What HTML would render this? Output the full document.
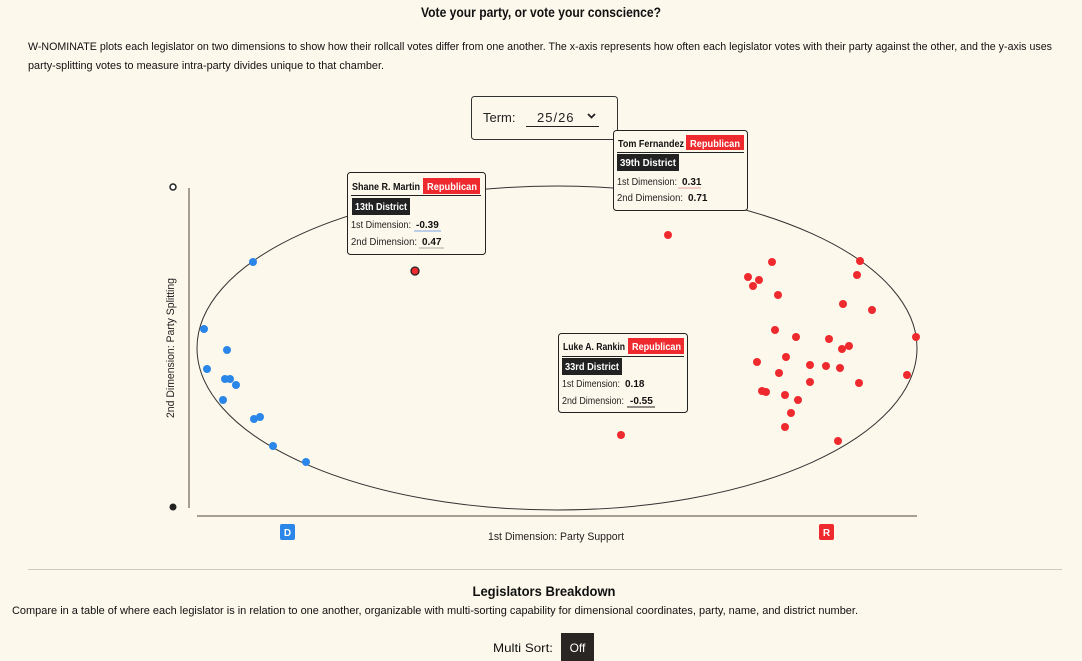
<!DOCTYPE html>
<html><head><meta charset="utf-8"><style>
html,body{margin:0;padding:0;background:#fdf8ec;}
svg{display:block;font-family:"Liberation Sans",sans-serif;}
</style></head><body>
<svg width="1082" height="661" viewBox="0 0 1082 661" xmlns="http://www.w3.org/2000/svg">
<rect width="1082" height="661" fill="#fdf8ec"/>
<text x="541" y="17" text-anchor="middle" font-size="14" font-weight="bold" fill="#111" textLength="240" lengthAdjust="spacingAndGlyphs">Vote your party, or vote your conscience?</text>
<text x="28" y="50" font-size="11" fill="#111" textLength="1024" lengthAdjust="spacingAndGlyphs">W-NOMINATE plots each legislator on two dimensions to show how their rollcall votes differ from one another. The x-axis represents how often each legislator votes with their party against the other, and the y-axis uses</text>
<text x="28" y="69" font-size="11" fill="#111" textLength="356" lengthAdjust="spacingAndGlyphs">party-splitting votes to measure intra-party divides unique to that chamber.</text>

<!-- axes -->
<line x1="189" y1="188" x2="189" y2="508" stroke="#a59e93" stroke-width="2"/>
<line x1="197" y1="516" x2="917" y2="516" stroke="#a59e93" stroke-width="2"/>
<circle cx="173" cy="187" r="3" fill="#fff" stroke="#222" stroke-width="1.5"/>
<circle cx="173" cy="507" r="3.5" fill="#222"/>
<text x="174" y="348" font-size="11" fill="#222" text-anchor="middle" transform="rotate(-90 174 348)" textLength="140" lengthAdjust="spacingAndGlyphs">2nd Dimension: Party Splitting</text>
<text x="556" y="540" font-size="11" fill="#222" text-anchor="middle" textLength="136" lengthAdjust="spacingAndGlyphs">1st Dimension: Party Support</text>
<rect x="280" y="524" width="15" height="16" rx="2" fill="#2a86e8"/>
<text x="287.5" y="536" font-size="10" font-weight="bold" fill="#fff" text-anchor="middle">D</text>
<rect x="819" y="524" width="15" height="16" rx="2" fill="#ee2a2e"/>
<text x="826.5" y="536" font-size="10" font-weight="bold" fill="#fff" text-anchor="middle">R</text>

<ellipse cx="557" cy="348" rx="360" ry="162" fill="none" stroke="#333" stroke-width="1"/>

<g fill="#2a86e8">
<circle cx="253" cy="262" r="4"/><circle cx="204" cy="329" r="4"/><circle cx="227" cy="350" r="4"/><circle cx="207" cy="369" r="4"/><circle cx="225" cy="379" r="4"/><circle cx="230" cy="379" r="4"/><circle cx="236" cy="385" r="4"/><circle cx="223" cy="400" r="4"/><circle cx="254" cy="419" r="4"/><circle cx="260" cy="417" r="4"/><circle cx="273" cy="446" r="4"/><circle cx="306" cy="462" r="4"/>
</g>
<g fill="#ee2a2e">
<circle cx="772" cy="262" r="4"/><circle cx="748" cy="277" r="4"/><circle cx="759" cy="280" r="4"/><circle cx="753" cy="286" r="4"/><circle cx="778" cy="295" r="4"/><circle cx="860" cy="261" r="4"/><circle cx="857" cy="275" r="4"/><circle cx="843" cy="304" r="4"/><circle cx="872" cy="310" r="4"/><circle cx="775" cy="330" r="4"/><circle cx="796" cy="337" r="4"/><circle cx="829" cy="339" r="4"/><circle cx="849" cy="346" r="4"/><circle cx="842" cy="349" r="4"/><circle cx="916" cy="337" r="4"/><circle cx="757" cy="362" r="4"/><circle cx="786" cy="357" r="4"/><circle cx="810" cy="365" r="4"/><circle cx="826" cy="366" r="4"/><circle cx="840" cy="368" r="4"/><circle cx="779" cy="373" r="4"/><circle cx="907" cy="375" r="4"/><circle cx="810" cy="382" r="4"/><circle cx="859" cy="383" r="4"/><circle cx="762" cy="391" r="4"/><circle cx="766" cy="392" r="4"/><circle cx="785" cy="395" r="4"/><circle cx="798" cy="400" r="4"/><circle cx="791" cy="413" r="4"/><circle cx="785" cy="427" r="4"/><circle cx="838" cy="441" r="4"/><circle cx="668" cy="235" r="4"/><circle cx="621" cy="435" r="4"/>
</g>
<circle cx="415" cy="271" r="4" fill="#ee2a2e" stroke="#222" stroke-width="1.3"/>

<!-- Term box -->
<rect x="471.5" y="96.5" width="146" height="43" rx="3" fill="#fdf8ec" stroke="#333"/>
<text x="483" y="122" font-size="13" fill="#222">Term:</text>
<text x="537" y="122" font-size="13" fill="#222" letter-spacing="1">25/26</text>
<path d="M588 114 l3.5 3.5 l3.5 -3.5" fill="none" stroke="#222" stroke-width="1.8"/>
<line x1="526" y1="126.5" x2="599" y2="126.5" stroke="#222"/>

<!-- Shane tooltip -->
<g>
<rect x="347.5" y="172.5" width="138" height="82" rx="3" fill="#fdf8ec" stroke="#222"/>
<text x="352" y="190" font-size="10" font-weight="bold" fill="#111" textLength="68" lengthAdjust="spacingAndGlyphs">Shane R. Martin</text>
<rect x="423" y="178" width="57" height="16" fill="#ee2a2e"/>
<text x="427" y="190" font-size="10" font-weight="bold" fill="#fff" textLength="50" lengthAdjust="spacingAndGlyphs">Republican</text>
<line x1="351" y1="195.5" x2="481" y2="195.5" stroke="#222"/>
<rect x="352" y="198" width="58" height="17" fill="#222"/>
<text x="355" y="210" font-size="10" font-weight="bold" fill="#fff" textLength="52" lengthAdjust="spacingAndGlyphs">13th District</text>
<text x="351" y="228" font-size="10" fill="#222" textLength="60" lengthAdjust="spacingAndGlyphs">1st Dimension:</text>
<text x="416" y="228" font-size="10" font-weight="bold" fill="#111">-0.39</text>
<line x1="414" y1="231" x2="441" y2="231" stroke="#7aa6e8"/>
<text x="351" y="245" font-size="10" fill="#222" textLength="66" lengthAdjust="spacingAndGlyphs">2nd Dimension:</text>
<text x="422" y="245" font-size="10" font-weight="bold" fill="#111">0.47</text>
<line x1="419" y1="248" x2="444" y2="248" stroke="#aaa"/>
</g>

<!-- Tom tooltip -->
<g>
<rect x="613.5" y="130.5" width="134" height="80" rx="3" fill="#fdf8ec" stroke="#222"/>
<text x="618" y="147" font-size="10" font-weight="bold" fill="#111" textLength="66" lengthAdjust="spacingAndGlyphs">Tom Fernandez</text>
<rect x="686" y="135" width="58" height="15" fill="#ee2a2e"/>
<text x="690" y="147" font-size="10" font-weight="bold" fill="#fff" textLength="50" lengthAdjust="spacingAndGlyphs">Republican</text>
<line x1="617" y1="152.5" x2="744" y2="152.5" stroke="#222"/>
<rect x="617" y="154" width="62" height="17" fill="#222"/>
<text x="620" y="166" font-size="10" font-weight="bold" fill="#fff" textLength="56" lengthAdjust="spacingAndGlyphs">39th District</text>
<text x="617" y="185" font-size="10" fill="#222" textLength="60" lengthAdjust="spacingAndGlyphs">1st Dimension:</text>
<text x="682" y="185" font-size="10" font-weight="bold" fill="#111">0.31</text>
<line x1="678" y1="188" x2="701" y2="188" stroke="#e8a0a0"/>
<text x="617" y="201" font-size="10" fill="#222" textLength="66" lengthAdjust="spacingAndGlyphs">2nd Dimension:</text>
<text x="688" y="201" font-size="10" font-weight="bold" fill="#111">0.71</text>
</g>

<!-- Luke tooltip -->
<g>
<rect x="558.5" y="333.5" width="129" height="79" rx="3" fill="#fdf8ec" stroke="#222"/>
<text x="563" y="350" font-size="10" font-weight="bold" fill="#111" textLength="62" lengthAdjust="spacingAndGlyphs">Luke A. Rankin</text>
<rect x="628" y="338" width="56" height="16" fill="#ee2a2e"/>
<text x="632" y="350" font-size="10" font-weight="bold" fill="#fff" textLength="49" lengthAdjust="spacingAndGlyphs">Republican</text>
<line x1="562" y1="356.5" x2="684" y2="356.5" stroke="#222"/>
<rect x="562" y="358" width="60" height="17" fill="#222"/>
<text x="565" y="370" font-size="10" font-weight="bold" fill="#fff" textLength="54" lengthAdjust="spacingAndGlyphs">33rd District</text>
<text x="562" y="387" font-size="10" fill="#222" textLength="58" lengthAdjust="spacingAndGlyphs">1st Dimension:</text>
<text x="625" y="387" font-size="10" font-weight="bold" fill="#111">0.18</text>
<text x="562" y="404" font-size="10" fill="#222" textLength="62" lengthAdjust="spacingAndGlyphs">2nd Dimension:</text>
<text x="630" y="404" font-size="10" font-weight="bold" fill="#111">-0.55</text>
<line x1="627" y1="407" x2="655" y2="407" stroke="#222"/>
</g>

<!-- bottom -->
<line x1="28" y1="569.5" x2="1062" y2="569.5" stroke="#cfcac0"/>
<text x="544" y="596" font-size="14" font-weight="bold" fill="#111" text-anchor="middle" textLength="143" lengthAdjust="spacingAndGlyphs">Legislators Breakdown</text>
<text x="12" y="614" font-size="11" fill="#111" textLength="846" lengthAdjust="spacingAndGlyphs">Compare in a table of where each legislator is in relation to one another, organizable with multi-sorting capability for dimensional coordinates, party, name, and district number.</text>
<text x="493" y="652" font-size="12" fill="#111" textLength="60" lengthAdjust="spacingAndGlyphs">Multi Sort:</text>
<rect x="561" y="633" width="33" height="28" fill="#2a2624"/>
<text x="577.5" y="652" font-size="12" fill="#fff" text-anchor="middle">Off</text>
</svg>
</body></html>
